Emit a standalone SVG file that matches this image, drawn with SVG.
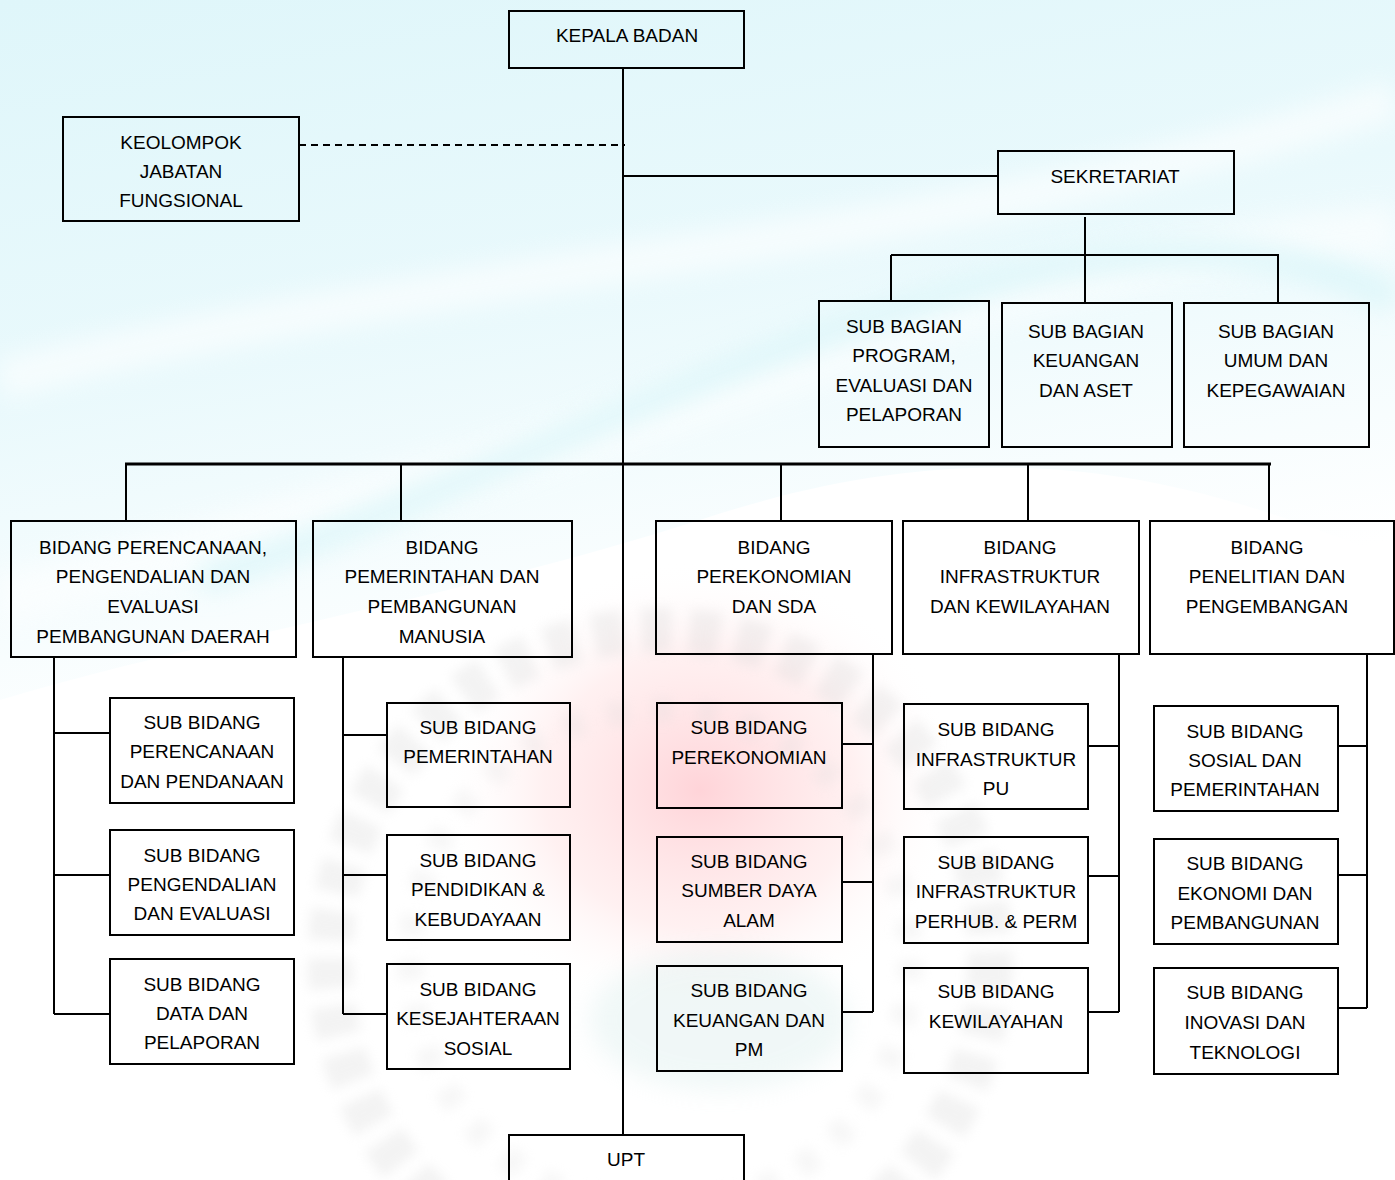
<svg xmlns="http://www.w3.org/2000/svg" width="1395" height="1180" viewBox="0 0 1395 1180">
<defs>
<linearGradient id="sky" x1="0" y1="0" x2="0.35" y2="1">
<stop offset="0" stop-color="#dff6fa"/>
<stop offset="0.5" stop-color="#e9f9fc"/>
<stop offset="1" stop-color="#ffffff"/>
</linearGradient>
<radialGradient id="pink" cx="0.5" cy="0.5" r="0.5">
<stop offset="0" stop-color="#ffc9cf" stop-opacity="0.8"/>
<stop offset="0.6" stop-color="#ffdfe0" stop-opacity="0.45"/>
<stop offset="1" stop-color="#ffffff" stop-opacity="0"/>
</radialGradient>
<filter id="blur" x="-20%" y="-20%" width="140%" height="140%"><feGaussianBlur stdDeviation="12"/></filter>
<filter id="blur2" x="-20%" y="-20%" width="140%" height="140%"><feGaussianBlur stdDeviation="6"/></filter>
</defs>
<style>
.box{fill:none;stroke:#000;stroke-width:2}
.ln{fill:none;stroke:#000;stroke-width:2}
.thick{fill:none;stroke:#000;stroke-width:3}
.dash{fill:none;stroke:#000;stroke-width:2;stroke-dasharray:7 5}
text{font-family:"Liberation Sans",Arial,sans-serif;font-size:19px;fill:#000;text-anchor:middle}
</style>
<g id="background">
<rect x="0" y="0" width="1395" height="1180" fill="#ffffff"/>
<path d="M0 0 H1395 V560 C1200 480 1000 420 700 520 C450 600 200 640 0 700 Z" fill="url(#sky)"/>
<path d="M0 380 C300 300 700 260 1000 200 C1200 160 1330 120 1395 100" stroke="#ffffff" stroke-width="40" fill="none" opacity="0.6" filter="url(#blur)"/>
<path d="M0 600 C300 520 600 440 900 330 C1100 260 1300 240 1395 230" stroke="#ffffff" stroke-width="50" fill="none" opacity="0.55" filter="url(#blur)"/>
<path d="M200 580 C450 500 700 360 1000 280 C1200 230 1320 260 1395 300" stroke="#d4f4f8" stroke-width="30" fill="none" opacity="0.6" filter="url(#blur)"/>
<ellipse cx="700" cy="790" rx="260" ry="230" fill="url(#pink)"/>
<circle cx="660" cy="960" r="330" fill="none" stroke="#d0d0d0" stroke-width="45" stroke-dasharray="30 18" opacity="0.25" filter="url(#blur2)"/>
<circle cx="660" cy="960" r="250" fill="none" stroke="#d8d8d8" stroke-width="25" stroke-dasharray="20 25" opacity="0.2" filter="url(#blur2)"/>
<ellipse cx="720" cy="1020" rx="130" ry="70" fill="#cfe8e6" opacity="0.3" filter="url(#blur)"/>
</g>
<g id="connectors">
<line class="ln" x1="623" y1="68" x2="623" y2="1135"/>
<line class="dash" x1="299" y1="145" x2="625" y2="145"/>
<line class="ln" x1="623" y1="176" x2="998" y2="176"/>
<line class="ln" x1="1085" y1="217" x2="1085" y2="302"/>
<line class="ln" x1="891" y1="255" x2="1279" y2="255"/>
<line class="ln" x1="891" y1="255" x2="891" y2="301"/>
<line class="ln" x1="1278" y1="255" x2="1278" y2="303"/>
<line class="thick" x1="125" y1="464" x2="1271" y2="464"/>
<line class="ln" x1="126" y1="464" x2="126" y2="521"/>
<line class="ln" x1="401" y1="464" x2="401" y2="521"/>
<line class="ln" x1="781" y1="464" x2="781" y2="521"/>
<line class="ln" x1="1028" y1="464" x2="1028" y2="521"/>
<line class="ln" x1="1269" y1="464" x2="1269" y2="521"/>
<path class="ln" d="M54 657 V1014 M54 733 H110 M54 875 H110 M54 1014 H110"/>
<path class="ln" d="M343 657 V1014 M343 735 H387 M343 875 H387 M343 1014 H387"/>
<path class="ln" d="M873 654 V1012 M842 744 H873 M842 882 H873 M842 1012 H873"/>
<path class="ln" d="M1119 654 V1012 M1088 746 H1119 M1088 876 H1119 M1088 1012 H1119"/>
<path class="ln" d="M1367 654 V1008 M1338 746 H1367 M1338 875 H1367 M1338 1008 H1367"/>
</g>
<g id="kepala"><rect class="box" x="509" y="11" width="235" height="57"/><text x="627" y="42">KEPALA BADAN</text></g>
<g id="kelompok"><rect class="box" x="63" y="117" width="236" height="104"/><text x="181" y="149">KEOLOMPOK</text><text x="181" y="178">JABATAN</text><text x="181" y="207">FUNGSIONAL</text></g>
<g id="sekretariat"><rect class="box" x="998" y="151" width="236" height="63"/><text x="1115" y="183">SEKRETARIAT</text></g>
<g id="sb-program"><rect class="box" x="819" y="301" width="170" height="146"/><text x="904" y="333">SUB BAGIAN</text><text x="904" y="362">PROGRAM,</text><text x="904" y="392">EVALUASI DAN</text><text x="904" y="421">PELAPORAN</text></g>
<g id="sb-keuangan"><rect class="box" x="1002" y="303" width="170" height="144"/><text x="1086" y="338">SUB BAGIAN</text><text x="1086" y="367">KEUANGAN</text><text x="1086" y="397">DAN ASET</text></g>
<g id="sb-umum"><rect class="box" x="1184" y="303" width="185" height="144"/><text x="1276" y="338">SUB BAGIAN</text><text x="1276" y="367">UMUM DAN</text><text x="1276" y="397">KEPEGAWAIAN</text></g>
<g id="b-perencanaan"><rect class="box" x="11" y="521" width="285" height="136"/><text x="153" y="554">BIDANG PERENCANAAN,</text><text x="153" y="583">PENGENDALIAN DAN</text><text x="153" y="613">EVALUASI</text><text x="153" y="643">PEMBANGUNAN DAERAH</text></g>
<g id="b-pemerintahan"><rect class="box" x="313" y="521" width="259" height="136"/><text x="442" y="554">BIDANG</text><text x="442" y="583">PEMERINTAHAN DAN</text><text x="442" y="613">PEMBANGUNAN</text><text x="442" y="643">MANUSIA</text></g>
<g id="b-perekonomian"><rect class="box" x="656" y="521" width="236" height="133"/><text x="774" y="554">BIDANG</text><text x="774" y="583">PEREKONOMIAN</text><text x="774" y="613">DAN SDA</text></g>
<g id="b-infrastruktur"><rect class="box" x="903" y="521" width="236" height="133"/><text x="1020" y="554">BIDANG</text><text x="1020" y="583">INFRASTRUKTUR</text><text x="1020" y="613">DAN KEWILAYAHAN</text></g>
<g id="b-penelitian"><rect class="box" x="1150" y="521" width="244" height="133"/><text x="1267" y="554">BIDANG</text><text x="1267" y="583">PENELITIAN DAN</text><text x="1267" y="613">PENGEMBANGAN</text></g>
<g id="s-perencanaan"><rect class="box" x="110" y="698" width="184" height="105"/><text x="202" y="729">SUB BIDANG</text><text x="202" y="758">PERENCANAAN</text><text x="202" y="788">DAN PENDANAAN</text></g>
<g id="s-pengendalian"><rect class="box" x="110" y="830" width="184" height="105"/><text x="202" y="862">SUB BIDANG</text><text x="202" y="891">PENGENDALIAN</text><text x="202" y="920">DAN EVALUASI</text></g>
<g id="s-data"><rect class="box" x="110" y="959" width="184" height="105"/><text x="202" y="991">SUB BIDANG</text><text x="202" y="1020">DATA DAN</text><text x="202" y="1049">PELAPORAN</text></g>
<g id="s-pemerintahan"><rect class="box" x="387" y="703" width="183" height="104"/><text x="478" y="734">SUB BIDANG</text><text x="478" y="763">PEMERINTAHAN</text></g>
<g id="s-pendidikan"><rect class="box" x="387" y="835" width="183" height="105"/><text x="478" y="867">SUB BIDANG</text><text x="478" y="896">PENDIDIKAN &amp;</text><text x="478" y="926">KEBUDAYAAN</text></g>
<g id="s-kesejahteraan"><rect class="box" x="387" y="964" width="183" height="105"/><text x="478" y="996">SUB BIDANG</text><text x="478" y="1025">KESEJAHTERAAN</text><text x="478" y="1055">SOSIAL</text></g>
<g id="s-perekonomian"><rect class="box" x="657" y="703" width="185" height="105"/><text x="749" y="734">SUB BIDANG</text><text x="749" y="764">PEREKONOMIAN</text></g>
<g id="s-sda"><rect class="box" x="657" y="837" width="185" height="105"/><text x="749" y="868">SUB BIDANG</text><text x="749" y="897">SUMBER DAYA</text><text x="749" y="927">ALAM</text></g>
<g id="s-keuangan"><rect class="box" x="657" y="966" width="185" height="105"/><text x="749" y="997">SUB BIDANG</text><text x="749" y="1027">KEUANGAN DAN</text><text x="749" y="1056">PM</text></g>
<g id="s-infra-pu"><rect class="box" x="904" y="704" width="184" height="105"/><text x="996" y="736">SUB BIDANG</text><text x="996" y="766">INFRASTRUKTUR</text><text x="996" y="795">PU</text></g>
<g id="s-infra-perhub"><rect class="box" x="904" y="837" width="184" height="106"/><text x="996" y="869">SUB BIDANG</text><text x="996" y="898">INFRASTRUKTUR</text><text x="996" y="928">PERHUB. &amp; PERM</text></g>
<g id="s-kewilayahan"><rect class="box" x="904" y="968" width="184" height="105"/><text x="996" y="998">SUB BIDANG</text><text x="996" y="1028">KEWILAYAHAN</text></g>
<g id="s-sosial"><rect class="box" x="1154" y="706" width="184" height="105"/><text x="1245" y="738">SUB BIDANG</text><text x="1245" y="767">SOSIAL DAN</text><text x="1245" y="796">PEMERINTAHAN</text></g>
<g id="s-ekonomi"><rect class="box" x="1154" y="839" width="184" height="105"/><text x="1245" y="870">SUB BIDANG</text><text x="1245" y="900">EKONOMI DAN</text><text x="1245" y="929">PEMBANGUNAN</text></g>
<g id="s-inovasi"><rect class="box" x="1154" y="968" width="184" height="106"/><text x="1245" y="999">SUB BIDANG</text><text x="1245" y="1029">INOVASI DAN</text><text x="1245" y="1059">TEKNOLOGI</text></g>
<g id="upt"><rect class="box" x="509" y="1135" width="235" height="60"/><text x="626" y="1166">UPT</text></g>
</svg>
